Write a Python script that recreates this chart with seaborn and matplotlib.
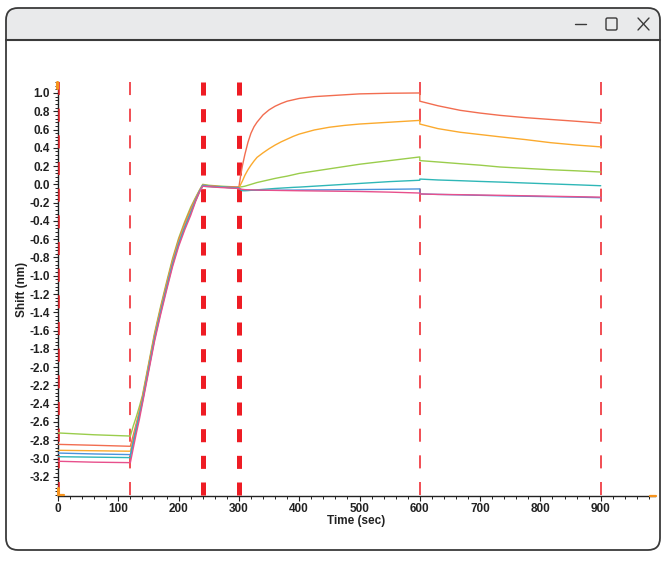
import numpy as np
import pandas as pd
import seaborn as sns
import matplotlib
matplotlib.use("Agg")
import matplotlib.pyplot as plt
from matplotlib.patches import FancyBboxPatch, Rectangle
from matplotlib.lines import Line2D
from matplotlib.ticker import FixedLocator, MultipleLocator, FormatStrFormatter

# sample names in drawing order (last one on top)
samples = ["S1", "S2", "S3", "S4", "S5", "S6"]
colors = ["#9acd4c", "#f26d50", "#fbaa2e", "#4b93dc", "#2fb7b7", "#e8508c"]

# time points: baseline / loading / plateau | association | dissociation (600 twice)
time = [0, 60, 120, 125, 130, 135, 140, 150, 160, 170, 180, 190, 200, 210, 220, 228, 235, 240, 250, 270,
        300, 303, 306, 310, 315, 320, 325, 330, 340, 350, 360, 370, 380, 390, 400, 425, 450, 475, 500, 550, 600,
        600, 630, 667, 700, 733, 775, 817, 860, 900]

green = [-2.72, -2.74, -2.754, -2.64, -2.54, -2.43, -2.31, -1.97, -1.63, -1.34, -1.07, -0.81, -0.59, -0.41, -0.25,
         -0.145, -0.058, 0.00, -0.01, -0.02,
         -0.03, -0.028, -0.025, -0.02, -0.01, 0.0, 0.01, 0.02, 0.035, 0.05, 0.065, 0.078, 0.09, 0.105, 0.12,
         0.145, 0.17, 0.195, 0.22, 0.26, 0.30,
         0.26, 0.245, 0.226, 0.21, 0.19, 0.175, 0.16, 0.148, 0.135]
red = [-2.845, -2.855, -2.866, -2.74, -2.61, -2.48, -2.33, -1.99, -1.65, -1.36, -1.09, -0.83, -0.61, -0.43, -0.27,
       -0.155, -0.063, -0.01, -0.015, -0.025,
       -0.03, 0.10, 0.21, 0.33, 0.46, 0.56, 0.63, 0.68, 0.76, 0.815, 0.855, 0.885, 0.91, 0.925, 0.94,
       0.96, 0.97, 0.98, 0.99, 0.997, 1.0,
       0.91, 0.86, 0.81, 0.78, 0.755, 0.73, 0.71, 0.69, 0.67]
orange = [-2.91, -2.915, -2.92, -2.78, -2.64, -2.50, -2.35, -2.01, -1.67, -1.38, -1.11, -0.85, -0.63, -0.45, -0.29,
          -0.165, -0.068, -0.01, -0.02, -0.03,
          -0.04, 0.0, 0.04, 0.10, 0.16, 0.21, 0.255, 0.295, 0.345, 0.39, 0.43, 0.465, 0.495, 0.525, 0.55,
          0.595, 0.625, 0.645, 0.66, 0.68, 0.70,
          0.66, 0.61, 0.57, 0.545, 0.52, 0.49, 0.456, 0.43, 0.41]
blue = [-2.94, -2.95, -2.957, -2.81, -2.66, -2.52, -2.37, -2.03, -1.69, -1.40, -1.13, -0.87, -0.65, -0.47, -0.31,
        -0.175, -0.072, -0.01, -0.02, -0.03,
        -0.04, -0.055, -0.06, -0.065, -0.065, -0.065, -0.065, -0.065, -0.065, -0.065, -0.064, -0.064, -0.063,
        -0.063, -0.062, -0.061, -0.06, -0.058, -0.057, -0.054, -0.05,
        -0.105, -0.11, -0.115, -0.12, -0.125, -0.13, -0.135, -0.14, -0.146]
teal = [-2.98, -2.985, -2.99, -2.83, -2.68, -2.53, -2.38, -2.04, -1.70, -1.41, -1.14, -0.88, -0.66, -0.48, -0.32,
        -0.18, -0.075, -0.02, -0.025, -0.03,
        -0.04, -0.06, -0.07, -0.07, -0.068, -0.065, -0.063, -0.06, -0.055, -0.05, -0.045, -0.041, -0.037,
        -0.033, -0.03, -0.02, -0.01, 0.0, 0.01, 0.03, 0.045,
        0.058, 0.048, 0.04, 0.032, 0.025, 0.015, 0.005, -0.005, -0.015]
pink = [-3.03, -3.04, -3.045, -2.88, -2.72, -2.57, -2.40, -2.06, -1.72, -1.43, -1.16, -0.90, -0.68, -0.50, -0.34,
        -0.19, -0.08, -0.02, -0.025, -0.035,
        -0.045, -0.052, -0.055, -0.058, -0.059, -0.06, -0.061, -0.062, -0.064, -0.065, -0.066, -0.067, -0.068,
        -0.069, -0.07, -0.072, -0.074, -0.076, -0.078, -0.085, -0.095,
        -0.105, -0.11, -0.113, -0.117, -0.12, -0.125, -0.13, -0.135, -0.14]

# step boundaries (thick = 240, 300)
step_x = [0, 120, 240, 300, 600, 900]
step_thick = [False, False, True, True, False, False]

x_ticks = list(range(0, 1000, 100))
y_ticks = list(np.round(np.arange(-16, 6) * 0.2, 1))

# long table for seaborn
rows = []
for name, vals in zip(samples, [green, red, orange, blue, teal, pink]):
    for t, v in zip(time, vals):
        rows.append((name, t, v))
df = pd.DataFrame(rows, columns=["Sample", "Time", "Shift"])

sns.set_style("ticks")
plt.rcParams['font.family'] = ['Liberation Sans', 'DejaVu Sans']
plt.rcParams['lines.scale_dashes'] = False

fig = plt.figure(figsize=(6.66, 5.62), dpi=100)
tr = fig.dpi_scale_trans
H = 562

# window frame
edge = "#3a3a3a"
fig.add_artist(FancyBboxPatch((0.06, (H - 550) / 100), 6.54, 5.42, boxstyle="round,pad=0,rounding_size=0.12",
                              transform=tr, fc="white", ec="none", zorder=-5))
fig.add_artist(FancyBboxPatch((0.06, (H - 60) / 100), 6.54, 0.52, boxstyle="round,pad=0,rounding_size=0.12",
                              transform=tr, fc="#e9eaeb", ec="none", zorder=-4))
fig.add_artist(Rectangle((0.07, (H - 60) / 100), 6.52, 0.20, transform=tr, fc="white", ec="none", zorder=-3))
fig.add_artist(FancyBboxPatch((0.06, (H - 550) / 100), 6.54, 5.42, boxstyle="round,pad=0,rounding_size=0.12",
                              transform=tr, fc="none", ec=edge, lw=1.3, zorder=-2))
fig.add_artist(Line2D([0.06, 6.60], [(H - 40) / 100] * 2, transform=tr, color=edge, lw=1.5, zorder=-2))
# title bar buttons
fig.add_artist(Line2D([5.75, 5.86], [(H - 24) / 100] * 2, transform=tr, color=edge, lw=1.0))
fig.add_artist(FancyBboxPatch((6.06, (H - 30) / 100), 0.11, 0.12, boxstyle="round,pad=0,rounding_size=0.015",
                              transform=tr, fc="none", ec=edge, lw=1.0))
fig.add_artist(Line2D([6.38, 6.49], [(H - 30) / 100, (H - 18) / 100], transform=tr, color=edge, lw=1.0))
fig.add_artist(Line2D([6.38, 6.49], [(H - 18) / 100, (H - 30) / 100], transform=tr, color=edge, lw=1.0))

ax = fig.add_axes([58 / 666, 66 / H, 597 / 666, 414 / H])
ax.set_facecolor("white")

x_lo, x_hi = 0, 990
y_lo, y_hi = -3.41, 1.12

# step boundaries
for x, thick in zip(step_x, step_thick):
    lw = 3.6 if thick else 1.1
    xx = x + (1.5 if x == 0 else 0)
    ax.plot([xx, xx], [y_hi, y_lo], color="#ee1c24", lw=lw,
            dashes=(9.4, 9.8), solid_capstyle="butt", zorder=2.6, clip_on=False)

sns.lineplot(data=df, x="Time", y="Shift", hue="Sample", palette=colors, estimator=None,
             sort=False, lw=1.0, legend=False, ax=ax, zorder=3)

# orange cursor handles
hc = "#f7941d"
ax.plot([0, 0], [-3.32, -3.38], color=hc, lw=2.2, clip_on=False, zorder=5)
ax.plot([0, 10], [-3.40, -3.40], color=hc, lw=1.6, clip_on=False, zorder=5)
ax.plot([-1, -1], [1.12, 1.05], color=hc, lw=2.2, clip_on=False, zorder=5)
ax.plot([982, 992], [-3.41, -3.41], color=hc, lw=1.6, clip_on=False, zorder=5)

ax.set_xlim(x_lo, x_hi)
ax.set_ylim(y_lo, y_hi)
ax.xaxis.set_major_locator(FixedLocator(x_ticks))
ax.xaxis.set_minor_locator(MultipleLocator(20))
ax.yaxis.set_major_locator(FixedLocator(y_ticks))
ax.yaxis.set_minor_locator(MultipleLocator(0.04))
ax.yaxis.set_major_formatter(FormatStrFormatter("%.1f"))
ax.tick_params(axis="both", which="major", length=3.5, width=0.8, color="#222222", labelsize=8.5)
ax.tick_params(axis="x", which="major", pad=1.5)
ax.tick_params(axis="y", which="major", pad=2.5)
ax.tick_params(axis="both", which="minor", length=2.5, width=0.7, color="#222222")
for lab in ax.get_xticklabels() + ax.get_yticklabels():
    lab.set_fontweight("bold")
    lab.set_color("#222222")

sns.despine(ax=ax)
ax.spines["left"].set_color("#222222")
ax.spines["bottom"].set_color("#222222")
ax.spines["left"].set_linewidth(1.0)
ax.spines["bottom"].set_linewidth(1.0)

ax.set_xlabel("Time (sec)", fontsize=8.5, fontweight="bold", labelpad=0.3, color="#222222")
ax.set_ylabel("Shift (nm)", fontsize=8.5, fontweight="bold", labelpad=1, color="#222222")

fig.savefig("out.png", dpi=100)
